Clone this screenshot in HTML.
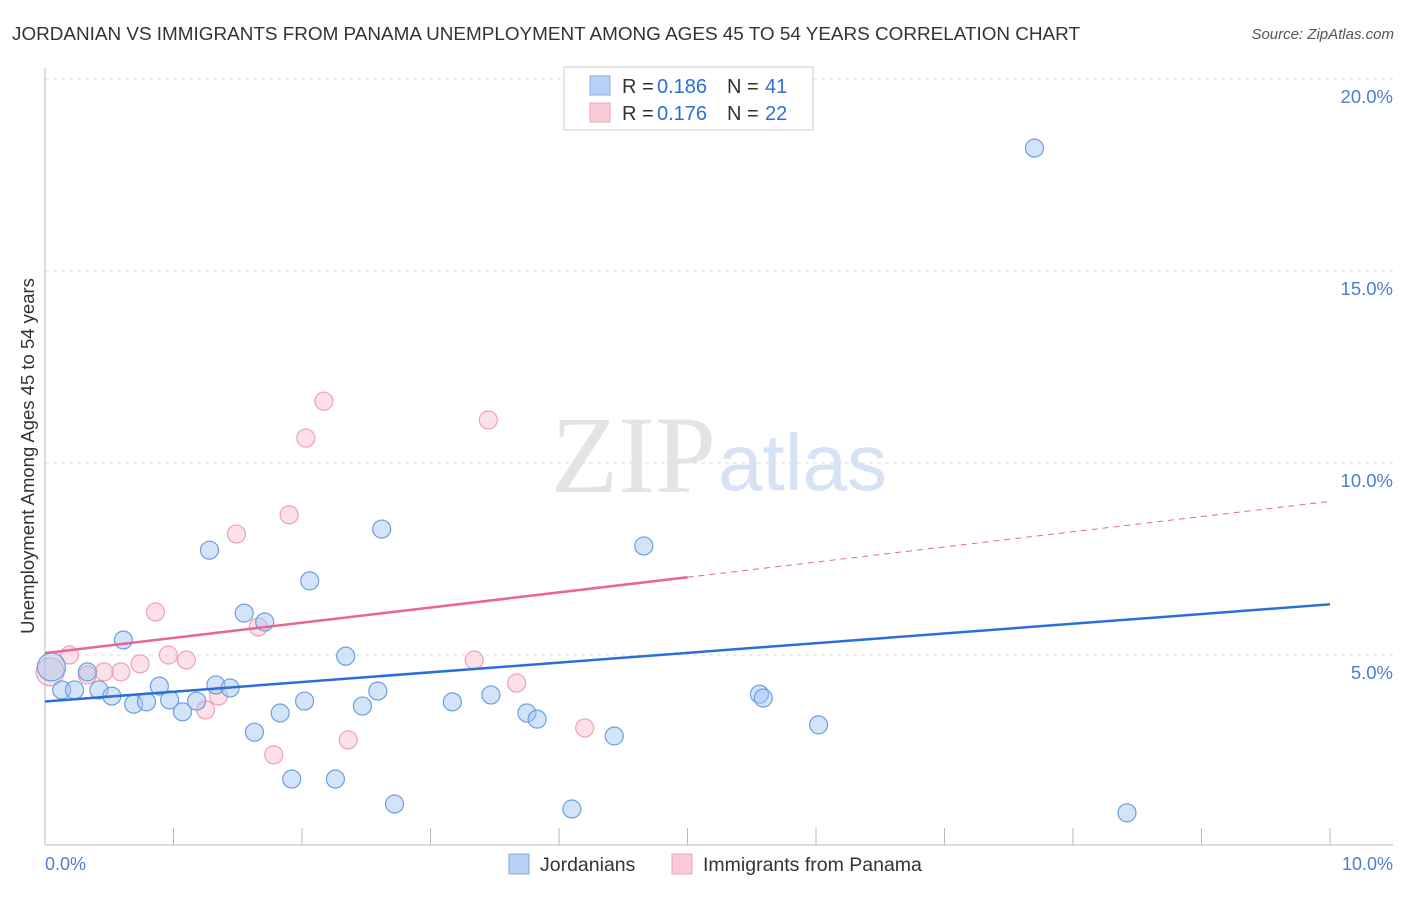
<!DOCTYPE html>
<html><head><meta charset="utf-8"><style>
body{margin:0;background:#fff;font-family:"Liberation Sans",sans-serif;}
</style></head><body>
<svg width="1406" height="892" xmlns="http://www.w3.org/2000/svg">
<text x="12" y="40" font-size="18.9" fill="#333" textLength="1068">JORDANIAN VS IMMIGRANTS FROM PANAMA UNEMPLOYMENT AMONG AGES 45 TO 54 YEARS CORRELATION CHART</text>
<text x="1394" y="39" font-size="15" fill="#555" font-style="italic" text-anchor="end">Source: ZipAtlas.com</text>
<text x="716" y="492" font-size="110" fill="#e4e4e4" font-family="Liberation Serif,serif" text-anchor="end">ZIP</text>
<text x="718" y="490" font-size="80" fill="#d6e3f5">atlas</text>
<g id="grid"></g>
<line x1="45" y1="68" x2="45" y2="845" stroke="#bbb"/>
<line x1="45" y1="845" x2="1393" y2="845" stroke="#bbb"/>
<g id="ticks"></g>
<text x="34" y="456" font-size="18.5" fill="#333" text-anchor="middle" transform="rotate(-90 34 456)">Unemployment Among Ages 45 to 54 years</text>
<text x="45" y="870" font-size="18" fill="#4a7fd4">0.0%</text>
<text x="1393" y="870" font-size="18" fill="#4a7fd4" text-anchor="end">10.0%</text>
<g id="marks"></g>
<g>
<rect x="564" y="67" width="249" height="63" fill="#fff" stroke="#ccc"/>
<rect x="590" y="76" width="20" height="19" fill="#b7d2f5" stroke="#7fa8e0"/>
<rect x="590" y="103" width="20" height="19" fill="#fbcad7" stroke="#f0a0b8"/>
<text y="93" font-size="20" fill="#333"><tspan x="622">R =</tspan><tspan x="657" fill="#2a6fd6">0.186</tspan><tspan x="727">N =</tspan><tspan x="765" fill="#2a6fd6">41</tspan></text>
<text y="120" font-size="20" fill="#333"><tspan x="622">R =</tspan><tspan x="657" fill="#2a6fd6">0.176</tspan><tspan x="727">N =</tspan><tspan x="765" fill="#2a6fd6">22</tspan></text>
</g>
<g>
<rect x="509" y="854" width="20" height="20" fill="#b7d2f5" stroke="#7fa8e0"/>
<text x="540" y="871" font-size="19.5" fill="#333">Jordanians</text>
<rect x="672" y="854" width="20" height="20" fill="#fbcad7" stroke="#f0a0b8"/>
<text x="703" y="871" font-size="19.5" fill="#333">Immigrants from Panama</text>
</g>
</svg>
<script>
const yTicks=[5,10,15,20];
const xTicks=[0,1,2,3,4,5,6,7,8,9,10];
const blueX=[0.05,0.13,0.23,0.33,0.42,0.52,0.61,0.69,0.79,0.89,0.97,1.07,1.18,1.28,1.33,1.44,1.55,1.63,1.71,1.83,1.92,2.02,2.06,2.26,2.34,2.47,2.59,2.62,2.72,3.17,3.47,3.75,3.83,4.10,4.43,4.66,5.56,5.59,6.02,7.70,8.42];
const blueY=[4.69,4.09,4.09,4.56,4.09,3.93,5.39,3.72,3.78,4.19,3.83,3.52,3.80,7.73,4.22,4.14,6.09,2.99,5.86,3.49,1.77,3.80,6.93,1.77,4.97,3.67,4.06,8.28,1.12,3.78,3.96,3.49,3.33,0.99,2.89,7.84,3.98,3.88,3.18,18.20,0.89];
const pinkX=[0.04,0.19,0.33,0.46,0.59,0.74,0.86,0.96,1.10,1.25,1.35,1.49,1.66,1.78,1.90,2.03,2.17,2.36,3.34,3.45,3.67,4.20];
const pinkY=[4.56,5.0,4.48,4.56,4.56,4.77,6.12,5.0,4.87,3.57,3.93,8.15,5.73,2.40,8.65,10.65,11.61,2.79,4.87,11.12,4.27,3.10];
const blueTrend=[3.79,6.32];
const pinkTrend=[5.05,9.0];
const pinkSolidEnd=5.0;
const NS="http://www.w3.org/2000/svg";
const sx=v=>45+v*128.5, sy=v=>847-v*38.4;
function mk(t,a,p){const e=document.createElementNS(NS,t);for(const k in a)e.setAttribute(k,a[k]);p.appendChild(e);return e;}
const grid=document.getElementById('grid'),ticks=document.getElementById('ticks'),marks=document.getElementById('marks');
yTicks.forEach(v=>{
 const l=mk('line',{x1:45,x2:1393,y1:sy(v),y2:sy(v),stroke:'#ddd','stroke-dasharray':'4,4'},grid);
 
 
 const t=mk('text',{x:1393,y:sy(v)+24,'font-size':18.5,fill:'#4a7fd4','text-anchor':'end'},grid);
 t.textContent=v.toFixed(1)+'%';
 
 
});
xTicks.forEach(v=>{
 const l=mk('line',{x1:sx(v),x2:sx(v),y1:828,y2:845,stroke:'#bbb'},ticks);
 
 
});
function pts(X,Y,fill,stroke,name){
 X.forEach((x,i)=>{
  const r=i===0?14:9;
  const c=mk('circle',{cx:sx(x),cy:sy(Y[i]),r:r,fill:fill,stroke:stroke,'stroke-width':1.2},marks);
  
  
 });
}
pts(pinkX,pinkY,'rgba(248,180,200,0.4)','#f0a0b8','panama-point');
pts(blueX,blueY,'rgba(160,196,240,0.45)','#6a9fe0','jordanian-point');
const bl=mk('line',{x1:sx(0),y1:sy(blueTrend[0]),x2:sx(10),y2:sy(blueTrend[1]),stroke:'#2a6fd6','stroke-width':2.5},marks);


const pm=pinkTrend[0]+(pinkTrend[1]-pinkTrend[0])*pinkSolidEnd/10;
const pl=mk('line',{x1:sx(0),y1:sy(pinkTrend[0]),x2:sx(pinkSolidEnd),y2:sy(pm),stroke:'#e8668f','stroke-width':2.5},marks);


const pd=mk('line',{x1:sx(pinkSolidEnd),y1:sy(pm),x2:sx(10),y2:sy(pinkTrend[1]),stroke:'#e8668f','stroke-width':1,'stroke-dasharray':'6,5'},marks);


</script>
</body></html>
